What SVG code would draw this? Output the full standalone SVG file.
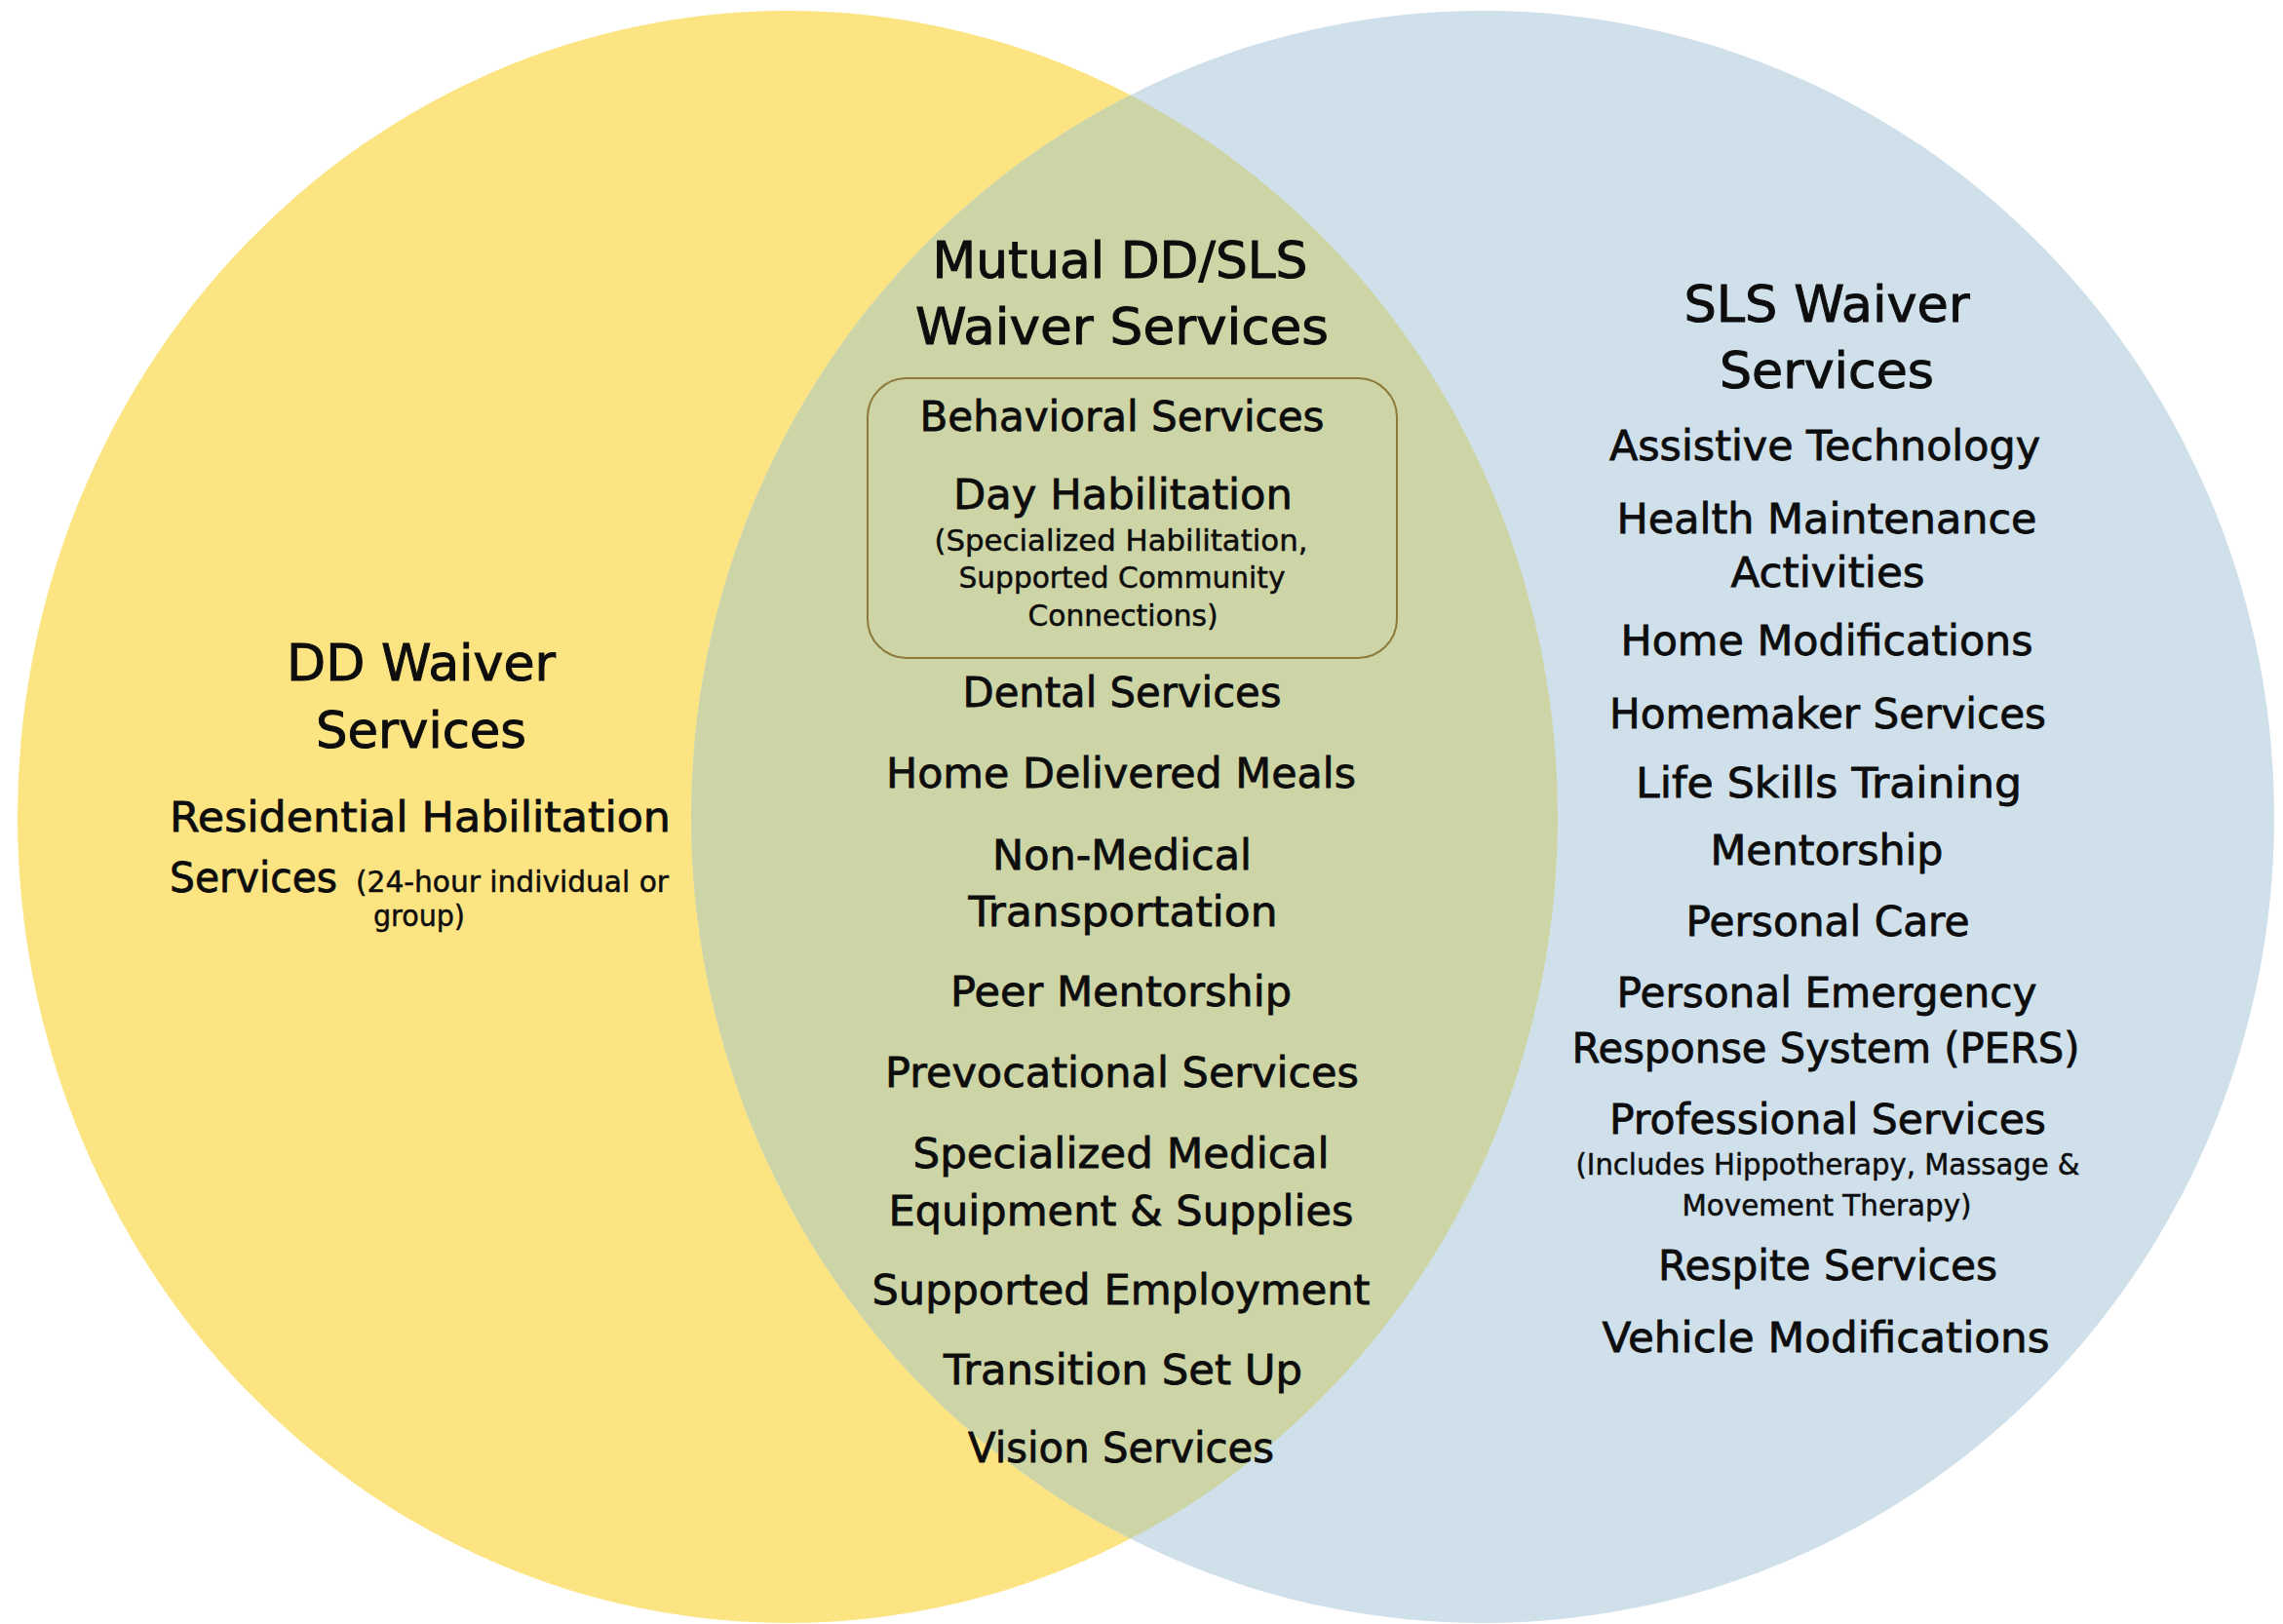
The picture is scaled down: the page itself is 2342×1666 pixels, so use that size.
<svg xmlns="http://www.w3.org/2000/svg" width="2342" height="1666" viewBox="0 0 2342 1666">
<style>
.t{font-family:"DejaVu Sans","Liberation Sans",sans-serif;fill:#0d0d0d;stroke:#0d0d0d;stroke-width:0.8px;text-anchor:middle}
.st{text-anchor:start}
.h{font-size:52px;stroke-width:1px}
.m{font-size:42px}
.s{font-size:30px;stroke-width:0.5px}
</style>
<defs>
<clipPath id="clipY"><ellipse cx="808" cy="838" rx="790" ry="827"/></clipPath>
</defs>
<rect width="2342" height="1666" fill="#ffffff"/>
<g id="dd-circle"><ellipse cx="808" cy="838" rx="790" ry="827" fill="#FDE482"/></g>
<g id="sls-circle"><ellipse cx="1521" cy="838" rx="812" ry="827" fill="#CFE0EB"/></g>
<g id="overlap"><ellipse cx="1521" cy="838" rx="812" ry="827" fill="#CDD5A6" clip-path="url(#clipY)"/></g>

<g id="dd-services">
<text class="t h" x="432" y="698" textLength="276" lengthAdjust="spacingAndGlyphs">DD Waiver</text>
<text class="t h" x="432" y="767" textLength="216" lengthAdjust="spacingAndGlyphs">Services</text>
<text class="t m" x="431" y="853" textLength="514" lengthAdjust="spacingAndGlyphs">Residential Habilitation</text>
<text class="t m st" x="174" y="915" textLength="172" lengthAdjust="spacingAndGlyphs">Services</text>
<text class="t s st" x="365" y="915" textLength="321" lengthAdjust="spacingAndGlyphs">(24-hour individual or</text>
<text class="t s" x="430" y="950" textLength="94" lengthAdjust="spacingAndGlyphs">group)</text>
</g>

<g id="mutual-services">
<text class="t h" x="1149" y="285" textLength="385" lengthAdjust="spacingAndGlyphs">Mutual DD/SLS</text>
<text class="t h" x="1151" y="353" textLength="424" lengthAdjust="spacingAndGlyphs">Waiver Services</text>
<g id="day-box">
<rect x="890" y="388" width="543" height="287" rx="40" ry="40" fill="none" stroke="#8C7A3C" stroke-width="2"/>
<text class="t m" x="1151" y="442" textLength="415" lengthAdjust="spacingAndGlyphs">Behavioral Services</text>
<text class="t m" x="1152" y="522" textLength="348" lengthAdjust="spacingAndGlyphs">Day Habilitation</text>
<text class="t s" x="1150" y="565" textLength="383" lengthAdjust="spacingAndGlyphs">(Specialized Habilitation,</text>
<text class="t s" x="1151" y="603" textLength="335" lengthAdjust="spacingAndGlyphs">Supported Community</text>
<text class="t s" x="1152" y="642" textLength="195" lengthAdjust="spacingAndGlyphs">Connections)</text>
</g>
<text class="t m" x="1151" y="725" textLength="327" lengthAdjust="spacingAndGlyphs">Dental Services</text>
<text class="t m" x="1150" y="808" textLength="482" lengthAdjust="spacingAndGlyphs">Home Delivered Meals</text>
<text class="t m" x="1151" y="892" textLength="266" lengthAdjust="spacingAndGlyphs">Non-Medical</text>
<text class="t m" x="1152" y="950" textLength="317" lengthAdjust="spacingAndGlyphs">Transportation</text>
<text class="t m" x="1150" y="1032" textLength="350" lengthAdjust="spacingAndGlyphs">Peer Mentorship</text>
<text class="t m" x="1151" y="1115" textLength="486" lengthAdjust="spacingAndGlyphs">Prevocational Services</text>
<text class="t m" x="1150" y="1198" textLength="427" lengthAdjust="spacingAndGlyphs">Specialized Medical</text>
<text class="t m" x="1150" y="1257" textLength="477" lengthAdjust="spacingAndGlyphs">Equipment &amp; Supplies</text>
<text class="t m" x="1150" y="1338" textLength="511" lengthAdjust="spacingAndGlyphs">Supported Employment</text>
<text class="t m" x="1152" y="1420" textLength="368" lengthAdjust="spacingAndGlyphs">Transition Set Up</text>
<text class="t m" x="1150" y="1500" textLength="314" lengthAdjust="spacingAndGlyphs">Vision Services</text>
</g>

<g id="sls-services">
<text class="t h" x="1874" y="330" textLength="293" lengthAdjust="spacingAndGlyphs">SLS Waiver</text>
<text class="t h" x="1874" y="398" textLength="220" lengthAdjust="spacingAndGlyphs">Services</text>
<text class="t m" x="1872" y="472" textLength="442" lengthAdjust="spacingAndGlyphs">Assistive Technology</text>
<text class="t m" x="1874" y="547" textLength="431" lengthAdjust="spacingAndGlyphs">Health Maintenance</text>
<text class="t m" x="1875" y="602" textLength="199" lengthAdjust="spacingAndGlyphs">Activities</text>
<text class="t m" x="1874" y="672" textLength="423" lengthAdjust="spacingAndGlyphs">Home Modifications</text>
<text class="t m" x="1875" y="747" textLength="448" lengthAdjust="spacingAndGlyphs">Homemaker Services</text>
<text class="t m" x="1876" y="818" textLength="396" lengthAdjust="spacingAndGlyphs">Life Skills Training</text>
<text class="t m" x="1874" y="887" textLength="239" lengthAdjust="spacingAndGlyphs">Mentorship</text>
<text class="t m" x="1875" y="960" textLength="291" lengthAdjust="spacingAndGlyphs">Personal Care</text>
<text class="t m" x="1874" y="1033" textLength="431" lengthAdjust="spacingAndGlyphs">Personal Emergency</text>
<text class="t m" x="1873" y="1090" textLength="521" lengthAdjust="spacingAndGlyphs">Response System (PERS)</text>
<text class="t m" x="1875" y="1163" textLength="448" lengthAdjust="spacingAndGlyphs">Professional Services</text>
<text class="t s" x="1875" y="1205" textLength="517" lengthAdjust="spacingAndGlyphs">(Includes Hippotherapy, Massage &amp;</text>
<text class="t s" x="1874" y="1247" textLength="297" lengthAdjust="spacingAndGlyphs">Movement Therapy)</text>
<text class="t m" x="1875" y="1313" textLength="348" lengthAdjust="spacingAndGlyphs">Respite Services</text>
<text class="t m" x="1873" y="1387" textLength="459" lengthAdjust="spacingAndGlyphs">Vehicle Modifications</text>
</g>
</svg>
